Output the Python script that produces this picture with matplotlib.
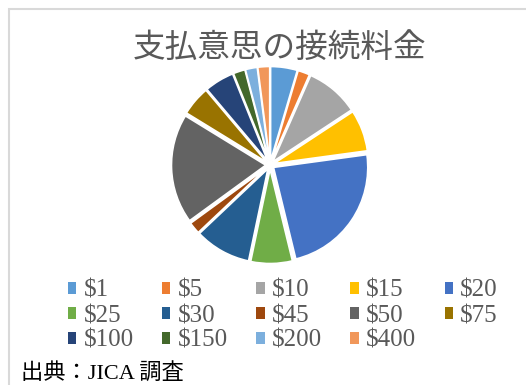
import matplotlib.pyplot as plt
from matplotlib.patches import Rectangle, Patch

# willingness to pay for a connection (share of respondents)
labels = ['$1', '$5', '$10', '$15', '$20', '$25', '$30', '$45', '$50', '$75',
          '$100', '$150', '$200', '$400']
shares = [4.5, 2, 9, 7, 23, 7, 9.5, 2, 18.5, 5, 5, 2, 2, 2]
colors = ['#5B9BD5', '#ED7D31', '#A5A5A5', '#FFC000', '#4472C4', '#70AD47',
          '#255E91', '#9E480E', '#636363', '#997300', '#264478', '#43682B',
          '#7CAFDD', '#F1975A']

W, H = 526, 385
fig = plt.figure(figsize=(W / 100, H / 100), dpi=100)

# light frame round the chart area
fig.patches.append(Rectangle((9 / W, -0.1), 1.2, 1 - 9 / H + 0.1,
                             transform=fig.transFigure, fill=False,
                             edgecolor='#d9d9d9', lw=1.5))

# pie
cx, cy, r = 270, 165, 99
ax = fig.add_axes([(cx - r) / W, (H - cy - r) / H, 2 * r / W, 2 * r / H])
ax.pie(shares, colors=colors, startangle=90, counterclock=False,
       explode=[0.045] * len(shares),
       wedgeprops=dict(edgecolor='white', linewidth=1.2))
ax.set_xlim(-1.05, 1.05)
ax.set_ylim(-1.05, 1.05)
ax.set_aspect('auto')
ax.axis('off')

fig.text(280 / W, 1 - 48 / H, '支払意思の接続料金', ha='center', va='center',
         fontsize=23.5, color='#595959', family=['Noto Sans CJK JP'])

# legend, row by row in 5 columns
ncol = 5
order = [i for c in range(ncol) for i in range(c, len(labels), ncol)]
handles = [Patch(facecolor=colors[i], edgecolor='none') for i in order]
fig.legend(handles, [labels[i] for i in order], ncol=ncol, loc='center',
           bbox_to_anchor=(283 / W, 1 - 316 / H), frameon=False,
           prop={'family': 'Liberation Serif', 'size': 18},
           labelcolor='#595959', handlelength=0.33, handleheight=0.33,
           handletextpad=0.3, columnspacing=1.13, labelspacing=0.12,
           borderpad=0)

fig.text(21 / W, 1 - 373 / H, '出典：JICA 調査', ha='left', va='center',
         fontsize=16, color='black',
         family=['Liberation Serif', 'Noto Sans CJK JP'])

fig.savefig('out.png', dpi=100)
